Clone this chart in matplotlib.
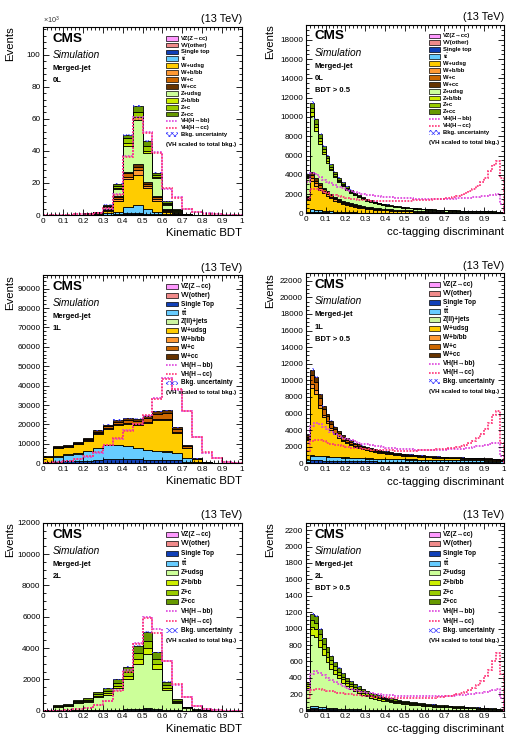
import numpy as np
import matplotlib
matplotlib.use('Agg')
from matplotlib import pyplot as plt
from matplotlib.patches import Rectangle
from matplotlib.lines import Line2D
from matplotlib.ticker import MultipleLocator, AutoMinorLocator, FuncFormatter

plt.rcParams['font.family'] = ['Liberation Sans', 'DejaVu Sans']
plt.rcParams['mathtext.fontset'] = 'custom'
plt.rcParams['mathtext.rm'] = 'Liberation Sans'
plt.rcParams['mathtext.bf'] = 'Liberation Sans:bold'
plt.rcParams['hatch.linewidth'] = 0.5

# ---------------- data ----------------
# 0L, kinematic BDT (x10^3 events), 20 bins
bdt0_vz = [0, 0, 0, 0, 0, 0.01, 0.02, 0.05, 0.1, 0.15, 0.1, 0.05, 0.02, 0.01, 0, 0, 0, 0, 0, 0]
bdt0_vv = [0.01, 0.01, 0.01, 0.01, 0.03, 0.05, 0.1, 0.2, 0.4, 0.5, 0.4, 0.25, 0.08, 0.03, 0.01, 0.01, 0.01, 0.01, 0.01, 0.01]
bdt0_st = [0.01, 0.01, 0.01, 0.01, 0.03, 0.05, 0.13, 0.25, 0.5, 0.6, 0.4, 0.2, 0.05, 0.02, 0.01, 0.01, 0.01, 0.01, 0.01, 0.01]
bdt0_tt = [0.02, 0.02, 0.02, 0.02, 0.05, 0.15, 0.75, 1.5, 4.0, 4.75, 3.1, 1.5, 0.35, 0.1, 0.03, 0.02, 0.02, 0.02, 0.02, 0.02]
bdt0_wl = [0.08, 0.08, 0.08, 0.08, 0.3, 0.6, 1.5, 7.0, 17.5, 19.0, 13.0, 7.0, 1.5, 0.35, 0.08, 0.08, 0.08, 0.08, 0.08, 0.08]
bdt0_wb = [0.01, 0.01, 0.01, 0.01, 0.04, 0.08, 0.5, 1.0, 1.5, 3.0, 1.0, 1.0, 0.5, 0.15, 0.03, 0.01, 0.01, 0.01, 0.01, 0.01]
bdt0_wc = [0.01, 0.01, 0.01, 0.01, 0.04, 0.08, 0.5, 1.0, 2.0, 2.0, 1.5, 1.0, 0.5, 0.2, 0.04, 0.01, 0.01, 0.01, 0.01, 0.01]
bdt0_wcc = [0.01, 0.01, 0.01, 0.01, 0.03, 0.08, 0.5, 1.0, 1.0, 2.0, 1.0, 1.0, 0.5, 0.15, 0.04, 0.01, 0.01, 0.01, 0.01, 0.01]
bdt0_zl = [0.12, 0.12, 0.12, 0.12, 0.35, 0.65, 1.0, 4.0, 16.0, 27.0, 18.5, 11.0, 2.5, 1.0, 0.25, 0.12, 0.12, 0.12, 0.12, 0.12]
bdt0_zb = [0.01, 0.01, 0.01, 0.01, 0.04, 0.08, 0.4, 1.0, 2.0, 2.0, 1.0, 1.0, 0.7, 0.4, 0.08, 0.01, 0.01, 0.01, 0.01, 0.01]
bdt0_zc = [0.01, 0.01, 0.01, 0.01, 0.04, 0.08, 0.5, 1.0, 3.0, 3.0, 3.0, 1.0, 0.8, 0.5, 0.1, 0.01, 0.01, 0.01, 0.01, 0.01]
bdt0_zcc = [0.01, 0.01, 0.01, 0.01, 0.05, 0.09, 0.6, 1.5, 2.0, 4.0, 3.0, 1.5, 1.0, 0.6, 0.13, 0.01, 0.01, 0.01, 0.01, 0.01]
bdt0_vhbb = [0.2, 0.2, 0.3, 0.4, 0.8, 1.5, 4, 13, 37, 61, 52, 39.5, 16.5, 11, 4, 2, 1, 0.5, 0.3, 0.2]
bdt0_vhcc = [0.2, 0.2, 0.3, 0.4, 0.7, 1.4, 4.2, 12.5, 36.5, 60, 51, 38.5, 17, 10.5, 3.5, 1.8, 0.9, 0.5, 0.3, 0.2]

# 0L, cc-tagging discriminant, 50 bins
cc0_vz = [8, 23, 20, 16, 14, 12, 10, 9, 7, 6, 6, 5, 4, 4, 3, 3, 3, 2, 2, 2,
          2, 2, 2, 1, 1, 1, 1, 1, 1, 1, 1, 1, 1, 1, 1, 1, 1, 1, 1, 1,
          1, 1, 1, 1, 1, 1, 1, 1, 1, 1]
cc0_vv = [33, 92, 78, 66, 56, 48, 41, 34, 30, 26, 22, 20, 17, 15, 14, 12, 11, 10, 9, 8,
          7, 7, 6, 6, 5, 5, 5, 4, 4, 4, 4, 3, 3, 3, 3, 3, 3, 3, 2, 2,
          2, 2, 2, 2, 2, 2, 2, 2, 1, 1]
cc0_st = [25, 69, 59, 49, 42, 36, 31, 26, 22, 19, 17, 15, 13, 11, 10, 9, 8, 7, 7, 6,
          6, 5, 5, 4, 4, 4, 4, 3, 3, 3, 3, 3, 2, 2, 2, 2, 2, 2, 2, 2,
          2, 2, 2, 1, 1, 1, 1, 1, 1, 1]
cc0_tt = [98, 276, 235, 197, 168, 144, 122, 103, 89, 77, 67, 59, 52, 46, 41, 36, 32, 29, 26, 24,
          22, 20, 19, 17, 16, 15, 14, 13, 13, 11, 11, 10, 10, 9, 9, 8, 8, 8, 7, 7,
          7, 6, 6, 5, 5, 5, 5, 5, 4, 4]
cc0_wl = [1230, 2850, 2420, 2090, 1780, 1560, 1360, 1140, 1000, 860, 765, 665, 595, 520, 475, 415, 380, 340, 312, 282,
          264, 242, 229, 210, 199, 183, 174, 161, 153, 143, 135, 127, 119, 113, 109, 102, 97, 92, 87, 82,
          78, 74, 70, 67, 63, 60, 56, 53, 49, 41]
cc0_wb = [150, 340, 290, 250, 215, 190, 165, 140, 125, 110, 100, 88, 80, 72, 66, 59, 55, 50, 47, 43,
          40, 38, 36, 33, 32, 30, 29, 27, 26, 25, 24, 23, 22, 21, 20, 19, 18, 17, 17, 16,
          16, 15, 14, 14, 13, 13, 12, 11, 11, 9]
cc0_wc = [150, 340, 290, 250, 215, 195, 170, 145, 130, 115, 105, 93, 85, 76, 70, 63, 59, 54, 50, 46,
          44, 41, 39, 37, 35, 33, 31, 30, 29, 27, 27, 25, 24, 23, 22, 21, 21, 20, 19, 18,
          18, 17, 17, 16, 16, 15, 14, 13, 12, 11]
cc0_wcc = [110, 265, 234, 198, 170, 155, 141, 123, 114, 99, 94, 85, 79, 73, 69, 63, 60, 56, 53, 49,
           48, 45, 44, 41, 40, 38, 37, 35, 34, 33, 32, 31, 29, 28, 28, 27, 26, 25, 24, 24,
           23, 23, 22, 21, 20, 19, 19, 18, 16, 14]
cc0_zl = [1840, 5800, 4930, 4050, 3450, 2900, 2420, 2030, 1710, 1475, 1265, 1100, 945, 830, 725, 637, 560, 504, 444, 402,
          360, 331, 300, 277, 252, 232, 212, 197, 180, 169, 155, 146, 137, 129, 119, 112, 107, 101, 96, 91,
          84, 80, 76, 72, 68, 64, 61, 56, 52, 44]
cc0_zb = [140, 435, 370, 310, 265, 225, 190, 160, 140, 120, 105, 93, 81, 73, 65, 58, 52, 47, 43, 39,
          36, 34, 31, 29, 27, 25, 23, 22, 20, 19, 18, 17, 16, 15, 14, 14, 13, 13, 12, 12,
          11, 11, 10, 10, 10, 9, 9, 9, 8, 7]
cc0_zc = [140, 435, 375, 310, 270, 230, 195, 165, 140, 125, 110, 97, 85, 77, 69, 62, 55, 51, 46, 42,
          39, 36, 34, 32, 29, 27, 25, 24, 22, 21, 19, 18, 18, 17, 16, 15, 15, 14, 14, 13,
          12, 12, 11, 11, 11, 10, 10, 10, 9, 8]
cc0_zcc = [176, 575, 500, 414, 355, 305, 255, 225, 193, 168, 144, 131, 114, 103, 93, 83, 75, 69, 61, 57,
           52, 49, 45, 42, 39, 37, 35, 32, 30, 29, 27, 26, 24, 24, 22, 21, 20, 20, 19, 18,
           17, 16, 16, 15, 14, 14, 13, 12, 11, 10]
cc0_vhbb = [3300, 4200, 4100, 3800, 3500, 3300, 3100, 2900, 2750, 2600, 2450, 2300, 2200, 2100, 2000, 1920, 1850, 1800, 1750, 1700,
            1680, 1650, 1620, 1600, 1580, 1560, 1540, 1520, 1500, 1500, 1490, 1480, 1480, 1480, 1490, 1500, 1510, 1520, 1540, 1560,
            1600, 1640, 1680, 1720, 1780, 1840, 1900, 1950, 2000, 1000]
cc0_vhcc = [1500, 2500, 2550, 2400, 2250, 2100, 1950, 1850, 1750, 1650, 1580, 1520, 1460, 1420, 1380, 1350, 1320, 1300, 1290, 1280,
            1280, 1280, 1280, 1290, 1300, 1310, 1320, 1340, 1360, 1380, 1400, 1420, 1450, 1480, 1520, 1570, 1640, 1720, 1820, 1950,
            2100, 2300, 2550, 2850, 3200, 3700, 4400, 5000, 5400, 3700]

# 1L, kinematic BDT, 20 bins
bdt1_vz = [5, 10, 10, 12, 15, 20, 25, 30, 35, 40, 45, 50, 55, 45, 30, 10, 3, 1, 0, 0]
bdt1_vv = [30, 80, 90, 100, 120, 150, 180, 200, 210, 220, 230, 240, 250, 200, 120, 40, 10, 5, 2, 1]
bdt1_st = [150, 800, 1000, 1100, 1300, 1700, 1900, 1900, 1800, 1700, 1600, 1500, 1450, 1200, 600, 150, 50, 20, 8, 4]
bdt1_tt = [415, 2610, 3400, 3788, 4765, 6130, 7195, 7270, 6655, 5840, 4925, 4510, 4245, 3655, 1950, 500, 137, 54, 20, 10]
bdt1_zj = [20, 50, 60, 70, 80, 100, 120, 140, 150, 160, 170, 180, 180, 120, 60, 20, 5, 2, 1, 0]
bdt1_wl = [2400, 4170, 3850, 4625, 5240, 6940, 8100, 9950, 11270, 11730, 13670, 15600, 16000, 10300, 5100, 1390, 385, 130, 54, 27]
bdt1_wb = [120, 215, 200, 235, 270, 355, 415, 510, 580, 600, 700, 810, 840, 530, 260, 70, 20, 7, 3, 1]
bdt1_wc = [340, 590, 545, 655, 740, 980, 1140, 1405, 1590, 1655, 1930, 2400, 2700, 1520, 720, 195, 55, 19, 7, 4]
bdt1_wcc = [220, 375, 345, 415, 470, 625, 725, 895, 1010, 1055, 1230, 1410, 1480, 930, 460, 125, 35, 12, 5, 3]
bdt1_vhbb = [200, 500, 1000, 2000, 3500, 5500, 9500, 12500, 17000, 20500, 24500, 33500, 44000, 38000, 27000, 13500, 5500, 2600, 500, 100]
bdt1_vhcc = [200, 500, 1000, 2000, 3600, 5600, 9300, 12800, 16800, 20000, 25000, 33000, 43500, 38200, 27000, 13300, 5600, 2500, 500, 100]

# 1L, cc-tagging discriminant, 50 bins
cc1_vz = [4, 10, 9, 9, 9, 8, 8, 8, 8, 7, 7, 7, 7, 6, 6, 6, 6, 6, 6, 5,
          5, 5, 5, 5, 5, 5, 5, 5, 5, 4, 4, 4, 4, 4, 4, 4, 4, 4, 4, 4,
          4, 4, 4, 4, 4, 4, 3, 3, 3, 2]
cc1_vv = [32, 67, 65, 63, 61, 59, 57, 55, 53, 50, 49, 48, 46, 45, 43, 42, 41, 40, 39, 38,
          37, 36, 35, 35, 34, 33, 33, 32, 32, 31, 31, 30, 30, 30, 29, 29, 28, 28, 27, 27,
          27, 26, 26, 25, 25, 25, 24, 23, 21, 16]
cc1_st = [135, 285, 279, 270, 261, 252, 243, 234, 225, 216, 210, 204, 198, 192, 186, 180, 176, 171, 167, 162,
          158, 155, 152, 149, 146, 143, 140, 138, 136, 134, 132, 130, 128, 127, 125, 123, 121, 119, 118, 116,
          114, 112, 110, 109, 107, 105, 102, 98, 90, 69]
cc1_tt = [261, 551, 539, 522, 505, 487, 470, 452, 435, 418, 406, 394, 383, 371, 360, 348, 339, 331, 322, 313,
          305, 299, 293, 287, 281, 276, 271, 267, 263, 259, 255, 252, 248, 245, 241, 238, 234, 231, 227, 224,
          220, 217, 213, 210, 206, 203, 197, 189, 174, 133]
cc1_zj = [18, 38, 37, 36, 35, 34, 32, 31, 30, 29, 28, 27, 26, 26, 25, 24, 23, 23, 22, 22,
          21, 21, 20, 20, 19, 19, 19, 18, 18, 18, 18, 17, 17, 17, 17, 16, 16, 16, 16, 15,
          15, 15, 15, 14, 14, 14, 14, 13, 12, 9]
cc1_wl = [2300, 8070, 7390, 5770, 4700, 4020, 3220, 2700, 2340, 1980, 1730, 1510, 1340, 1200, 1070, 970, 860, 785, 720, 660,
          605, 555, 513, 475, 444, 416, 390, 364, 341, 321, 292, 268, 252, 240, 228, 219, 210, 201, 192, 186,
          180, 174, 168, 162, 157, 148, 141, 132, 123, 94]
cc1_wb = [150, 520, 470, 370, 300, 260, 215, 185, 160, 140, 125, 110, 100, 90, 85, 80, 75, 70, 65, 60,
          55, 52, 49, 46, 43, 41, 39, 37, 35, 34, 33, 31, 30, 29, 28, 27, 26, 25, 24, 24,
          23, 23, 22, 22, 21, 20, 19, 18, 17, 13]
cc1_wc = [325, 1140, 1040, 815, 665, 570, 515, 440, 385, 330, 290, 260, 230, 210, 195, 180, 175, 160, 150, 140,
          130, 120, 112, 105, 99, 94, 89, 84, 79, 75, 71, 71, 67, 64, 62, 60, 58, 56, 54, 53,
          52, 50, 49, 48, 46, 44, 43, 40, 38, 29]
cc1_wcc = [175, 620, 570, 445, 365, 310, 340, 295, 265, 230, 205, 190, 170, 160, 160, 150, 155, 145, 130, 120,
           115, 108, 101, 94, 89, 84, 80, 75, 72, 69, 74, 76, 73, 70, 66, 64, 62, 60, 58, 56,
           55, 54, 53, 51, 50, 48, 47, 45, 42, 34]
cc1_vhbb = [2500, 4500, 4900, 4700, 4400, 4100, 3800, 3500, 3300, 3100, 2950, 2800, 2650, 2500, 2380, 2280, 2180, 2100, 2030, 1960,
            1900, 1850, 1800, 1760, 1730, 1700, 1680, 1660, 1640, 1630, 1620, 1620, 1620, 1630, 1640, 1650, 1670, 1700, 1730, 1770,
            1820, 1880, 1950, 2030, 2120, 2220, 2330, 2450, 2500, 900]
cc1_vhcc = [1500, 2700, 2850, 2800, 2650, 2500, 2380, 2260, 2150, 2050, 1970, 1900, 1840, 1790, 1740, 1700, 1660, 1630, 1600, 1580,
            1560, 1550, 1540, 1530, 1530, 1530, 1530, 1540, 1550, 1570, 1590, 1610, 1640, 1680, 1720, 1770, 1830, 1900, 1990, 2100,
            2250, 2450, 2700, 3050, 3500, 4100, 4900, 5800, 6300, 2500]

# 2L, kinematic BDT, 20 bins
bdt2_vz = [0, 1, 1, 2, 2, 3, 4, 6, 8, 12, 15, 11, 6, 2, 1, 0, 0, 0, 0, 0]
bdt2_vv = [1, 4, 5, 8, 9, 14, 16, 22, 30, 45, 55, 40, 20, 8, 3, 1, 0, 0, 0, 0]
bdt2_st = [0, 2, 2, 3, 3, 4, 5, 6, 7, 8, 8, 6, 4, 2, 1, 0, 0, 0, 0, 0]
bdt2_tt = [2, 8, 10, 15, 18, 25, 30, 40, 50, 65, 70, 55, 30, 12, 5, 2, 1, 0, 0, 0]
bdt2_zl = [40, 230, 275, 460, 530, 820, 970, 1360, 1920, 2830, 3450, 2560, 1260, 495, 175, 54, 18, 7, 4, 2]
bdt2_zb = [5, 25, 30, 50, 60, 90, 105, 150, 210, 320, 380, 290, 145, 57, 20, 6, 2, 1, 0, 0]
bdt2_zc = [6, 33, 40, 65, 78, 120, 140, 195, 275, 400, 480, 360, 180, 72, 25, 8, 2, 1, 0, 0]
bdt2_zcc = [6, 37, 47, 77, 90, 134, 160, 221, 310, 470, 542, 408, 205, 82, 30, 9, 3, 1, 1, 0]
bdt2_vhbb = [0, 10, 30, 80, 150, 350, 650, 1300, 2600, 4300, 6000, 5200, 3200, 1650, 900, 320, 80, 20, 5, 0]
bdt2_vhcc = [0, 10, 30, 80, 160, 360, 640, 1250, 2500, 4250, 5900, 4950, 3150, 1700, 880, 330, 90, 20, 5, 0]

# 2L, cc-tagging discriminant, 50 bins
cc2_vz = [2, 6, 6, 5, 5, 4, 4, 3, 3, 3, 3, 2, 2, 2, 2, 2, 2, 2, 2, 2,
          2, 2, 2, 2, 2, 2, 2, 2, 2, 2, 2, 2, 2, 2, 2, 2, 2, 2, 2, 2,
          2, 2, 2, 2, 2, 2, 2, 2, 2, 1]
cc2_vv = [5, 17, 17, 15, 13, 12, 10, 9, 8, 7, 6, 6, 5, 5, 4, 4, 4, 3, 3, 3,
          3, 3, 3, 2, 2, 2, 2, 2, 2, 2, 2, 2, 2, 2, 2, 2, 1, 1, 1, 1,
          1, 1, 1, 1, 1, 1, 1, 1, 1, 1]
cc2_st = [2, 5, 5, 4, 4, 3, 3, 3, 2, 2, 2, 2, 2, 1, 1, 1, 1, 1, 1, 1,
          1, 1, 1, 1, 1, 1, 1, 1, 1, 1, 1, 1, 1, 1, 1, 1, 1, 1, 1, 1,
          1, 1, 1, 1, 1, 1, 1, 1, 1, 1]
cc2_tt = [8, 25, 25, 22, 19, 17, 15, 13, 12, 10, 9, 8, 8, 7, 6, 6, 5, 5, 5, 4,
          4, 4, 4, 3, 3, 3, 3, 3, 3, 3, 3, 2, 2, 2, 2, 2, 2, 2, 2, 2,
          2, 2, 2, 1, 1, 1, 1, 1, 1, 1]
cc2_zl = [256, 868, 845, 730, 640, 557, 482, 422, 369, 321, 280, 250, 224, 202, 181, 162, 147, 134, 122, 112,
          103, 95, 88, 83, 77, 72, 67, 63, 58, 54, 50, 47, 44, 41, 38, 36, 34, 32, 30, 28,
          25, 23, 21, 20, 18, 16, 14, 12, 10, 7]
cc2_zb = [30, 101, 99, 86, 76, 66, 57, 51, 45, 39, 34, 31, 28, 25, 23, 21, 19, 18, 16, 15,
          14, 13, 12, 11, 11, 10, 9, 9, 8, 8, 7, 7, 7, 6, 6, 6, 5, 5, 5, 5,
          4, 4, 4, 3, 3, 3, 3, 2, 2, 1]
cc2_zc = [23, 79, 77, 68, 60, 53, 47, 42, 37, 33, 30, 28, 25, 24, 22, 20, 19, 18, 17, 16,
          15, 14, 13, 13, 12, 11, 11, 10, 10, 9, 9, 9, 8, 8, 8, 7, 7, 7, 6, 6,
          6, 5, 5, 5, 4, 4, 4, 3, 3, 2]
cc2_zcc = [24, 79, 76, 70, 63, 58, 52, 47, 44, 40, 36, 33, 31, 29, 26, 24, 23, 21, 20, 19,
           18, 17, 16, 15, 14, 14, 13, 12, 12, 11, 11, 10, 10, 10, 9, 9, 9, 8, 8, 7,
           7, 7, 6, 6, 6, 5, 4, 5, 3, 2]
cc2_vhbb = [250, 450, 480, 460, 430, 400, 370, 345, 320, 300, 282, 266, 252, 240, 229, 220, 212, 205, 199, 194,
            190, 186, 183, 180, 178, 176, 175, 174, 173, 173, 173, 173, 174, 175, 176, 178, 180, 183, 186, 190,
            194, 199, 205, 212, 220, 230, 242, 255, 262, 150]
cc2_vhcc = [150, 250, 270, 265, 255, 245, 236, 227, 219, 211, 204, 198, 192, 187, 182, 178, 174, 170, 167, 164,
            161, 159, 157, 155, 154, 153, 152, 152, 152, 153, 154, 156, 159, 163, 168, 174, 181, 190, 201, 215,
            232, 253, 280, 315, 360, 420, 500, 600, 700, 450]

# ---------------- style ----------------
COL = {
    'vz': '#ff99ff', 'vv': '#f08a8a', 'st': '#1040b8', 'tt': '#66ccff', 'zj': '#ccf5a0',
    'wl': '#ffcc00', 'wb': '#ff9933', 'wc': '#cc6600', 'wcc': '#663300',
    'zl': '#ccff99', 'zb': '#ccee00', 'zc': '#99cc00', 'zcc': '#669900',
}
BB_COL = '#dd44dd'
CC_COL = '#ff3377'
UNC_COL = '#3a3aff'
UNC = 0.012
TT = r'$\mathbf{t\bar{t}}$'
DOT = (0, (1, 0.8))

FIG_W, FIG_H = 516, 746
fig = plt.figure(figsize=(5.16, 7.46), dpi=100)


def add_panel(box, nbins, comps, vhbb, vhcc, ytop, ymaj, ynmin, xlabel, region, cut, ylab_x, sci=False):
    left, top, right, bottom = box
    axh = bottom - top
    ax = fig.add_axes([left / FIG_W, 1 - bottom / FIG_H, (right - left) / FIG_W, axh / FIG_H])
    edges = np.linspace(0, 1, nbins + 1)

    base = np.zeros(nbins)
    for vals, key, lab in comps:
        top_v = base + np.asarray(vals, dtype=float)
        ax.stairs(top_v, edges, baseline=base, fill=True, facecolor=COL[key],
                  edgecolor='black', linewidth=0.6)
        base = top_v
    ax.stairs(base * (1 + UNC), edges, baseline=base * (1 - UNC), fill=True,
              facecolor='none', edgecolor=UNC_COL, hatch='xxxxxx', linewidth=0)
    ax.stairs(vhbb, edges, color=BB_COL, linestyle=DOT, linewidth=1.25)
    ax.stairs(vhcc, edges, color=CC_COL, linestyle=DOT, linewidth=1.25)

    ax.set_xlim(0, 1)
    ax.set_ylim(0, ytop)
    ax.xaxis.set_major_locator(MultipleLocator(0.1))
    ax.xaxis.set_minor_locator(AutoMinorLocator(5))
    ax.xaxis.set_major_formatter(FuncFormatter(lambda v, p: f'{v:g}'))
    ax.yaxis.set_major_locator(MultipleLocator(ymaj))
    ax.yaxis.set_minor_locator(AutoMinorLocator(ynmin))
    ax.yaxis.set_major_formatter(FuncFormatter(lambda v, p: f'{v:g}'))
    ax.tick_params(which='both', direction='in', top=True, right=True, width=0.6, labelsize=5.9)
    ax.tick_params(which='major', length=4.2, pad=2)
    ax.tick_params(which='minor', length=2.2)
    for s in ax.spines.values():
        s.set_linewidth(0.8)

    ax.set_xlabel(xlabel, fontsize=8.2, loc='right')
    ax.xaxis.set_label_coords(1.0, -0.07)
    ax.set_ylabel('Events', fontsize=8.2, loc='top')
    ax.yaxis.set_label_coords(ylab_x, 1.0)
    ax.text(1.0, 1.012, '(13 TeV)', transform=ax.transAxes, ha='right', va='bottom', fontsize=7.8)
    if sci:
        ax.text(0.0, 1.006, r'$\times$10$^{3}$', transform=ax.transAxes, ha='left', va='bottom',
                fontsize=5.2, color='#333333')

    # labels on the upper left
    def yfr(px):
        return 1 - px / axh
    xt = 9 / (right - left)
    ax.text(xt, yfr(11.8), 'CMS', transform=ax.transAxes, fontsize=9.7, fontweight='bold', va='center')
    ax.text(xt, yfr(28), 'Simulation', transform=ax.transAxes, fontsize=7.3, style='italic', va='center')
    ax.text(xt, yfr(41.5), 'Merged-jet', transform=ax.transAxes, fontsize=5.5, fontweight='bold', va='center')
    ax.text(xt, yfr(53.8), region, transform=ax.transAxes, fontsize=5.5, fontweight='bold', va='center')
    if cut:
        ax.text(xt, yfr(66), cut, transform=ax.transAxes, fontsize=5.5, fontweight='bold', va='center')

    # legend, drawn by hand to follow the compact ROOT layout
    rows = [(lab, 'patch', COL[key]) for vals, key, lab in comps]
    rows += [('VH(H\u2192bb)', 'line', BB_COL), ('VH(H\u2192cc)', 'line', CC_COL),
             ('Bkg. uncertainty', 'hatch', UNC_COL)]
    step = 96.5 / (len(rows) - 1)
    fs = min(4.7, step * 0.62)
    x0 = 123 / (right - left)
    w = 11.5 / (right - left)
    hh = min(4.8, step - 1.6) / axh
    for k, (lab, kind, c) in enumerate(rows):
        y = yfr(11.5 + k * step)
        if kind == 'patch':
            ax.add_patch(Rectangle((x0, y - hh / 2), w, hh, transform=ax.transAxes,
                                   facecolor=c, edgecolor='black', linewidth=0.5))
        elif kind == 'line':
            ax.add_line(Line2D([x0, x0 + w], [y, y], transform=ax.transAxes, color=c,
                               linestyle=DOT, linewidth=1.2))
        else:
            ax.add_patch(Rectangle((x0, y - hh / 2), w, hh, transform=ax.transAxes,
                                   facecolor='none', edgecolor=UNC_COL, hatch='xxxxxx', linewidth=0))
        ax.text(x0 + w + 3 / (right - left), y, lab, transform=ax.transAxes, fontsize=fs,
                fontweight='bold', va='center', ha='left')
    ax.text(x0, yfr(11.5 + 96.5 + 9.8), '(VH scaled to total bkg.)', transform=ax.transAxes,
            fontsize=4.4, fontweight='bold', va='center', ha='left')
    return ax


comps_0l_bdt = [(bdt0_vz, 'vz', 'VZ(Z\u2192cc)'), (bdt0_vv, 'vv', 'VV(other)'), (bdt0_st, 'st', 'Single top'),
                (bdt0_tt, 'tt', TT), (bdt0_wl, 'wl', 'W+udsg'), (bdt0_wb, 'wb', 'W+b/bb'),
                (bdt0_wc, 'wc', 'W+c'), (bdt0_wcc, 'wcc', 'W+cc'), (bdt0_zl, 'zl', 'Z+udsg'),
                (bdt0_zb, 'zb', 'Z+b/bb'), (bdt0_zc, 'zc', 'Z+c'), (bdt0_zcc, 'zcc', 'Z+cc')]
comps_0l_cc = [(cc0_vz, 'vz', 'VZ(Z\u2192cc)'), (cc0_vv, 'vv', 'VV(other)'), (cc0_st, 'st', 'Single top'),
               (cc0_tt, 'tt', TT), (cc0_wl, 'wl', 'W+udsg'), (cc0_wb, 'wb', 'W+b/bb'),
               (cc0_wc, 'wc', 'W+c'), (cc0_wcc, 'wcc', 'W+cc'), (cc0_zl, 'zl', 'Z+udsg'),
               (cc0_zb, 'zb', 'Z+b/bb'), (cc0_zc, 'zc', 'Z+c'), (cc0_zcc, 'zcc', 'Z+cc')]
comps_1l_bdt = [(bdt1_vz, 'vz', 'VZ(Z\u2192cc)'), (bdt1_vv, 'vv', 'VV(other)'), (bdt1_st, 'st', 'Single Top'),
                (bdt1_tt, 'tt', TT), (bdt1_zj, 'zj', 'Z(ll)+jets'), (bdt1_wl, 'wl', 'W+udsg'),
                (bdt1_wb, 'wb', 'W+b/bb'), (bdt1_wc, 'wc', 'W+c'), (bdt1_wcc, 'wcc', 'W+cc')]
comps_1l_cc = [(cc1_vz, 'vz', 'VZ(Z\u2192cc)'), (cc1_vv, 'vv', 'VV(other)'), (cc1_st, 'st', 'Single Top'),
               (cc1_tt, 'tt', TT), (cc1_zj, 'zj', 'Z(ll)+jets'), (cc1_wl, 'wl', 'W+udsg'),
               (cc1_wb, 'wb', 'W+b/bb'), (cc1_wc, 'wc', 'W+c'), (cc1_wcc, 'wcc', 'W+cc')]
comps_2l_bdt = [(bdt2_vz, 'vz', 'VZ(Z\u2192cc)'), (bdt2_vv, 'vv', 'VV(other)'), (bdt2_st, 'st', 'Single Top'),
                (bdt2_tt, 'tt', TT), (bdt2_zl, 'zl', 'Z+udsg'), (bdt2_zb, 'zb', 'Z+b/bb'),
                (bdt2_zc, 'zc', 'Z+c'), (bdt2_zcc, 'zcc', 'Z+cc')]
comps_2l_cc = [(cc2_vz, 'vz', 'VZ(Z\u2192cc)'), (cc2_vv, 'vv', 'VV(other)'), (cc2_st, 'st', 'Single Top'),
               (cc2_tt, 'tt', TT), (cc2_zl, 'zl', 'Z+udsg'), (cc2_zb, 'zb', 'Z+b/bb'),
               (cc2_zc, 'zc', 'Z+c'), (cc2_zcc, 'zcc', 'Z+cc')]

# boxes in pixels: left, top, right, bottom
add_panel((43.3, 26.7, 241.7, 215.0), 20, comps_0l_bdt, bdt0_vhbb, bdt0_vhcc, 117.5, 20, 5,
          'Kinematic BDT', '0L', None, -0.14, sci=True)
add_panel((305.7, 24.5, 503.7, 213.3), 50, comps_0l_cc, cc0_vhbb, cc0_vhcc, 19600, 2000, 4,
          'cc-tagging discriminant', '0L', 'BDT > 0.5', -0.155)
add_panel((43.3, 275.0, 241.7, 463.3), 20, comps_1l_bdt, bdt1_vhbb, bdt1_vhcc, 97000, 10000, 5,
          'Kinematic BDT', '1L', None, -0.14)
add_panel((305.7, 273.3, 503.7, 463.3), 50, comps_1l_cc, cc1_vhbb, cc1_vhcc, 22900, 2000, 4,
          'cc-tagging discriminant', '1L', 'BDT > 0.5', -0.155)
add_panel((43.3, 522.7, 241.7, 710.7), 20, comps_2l_bdt, bdt2_vhbb, bdt2_vhcc, 12000, 2000, 4,
          'Kinematic BDT', '2L', None, -0.14)
add_panel((305.7, 522.7, 503.7, 710.7), 50, comps_2l_cc, cc2_vhbb, cc2_vhcc, 2290, 200, 4,
          'cc-tagging discriminant', '2L', 'BDT > 0.5', -0.155)

fig.savefig('out.png', dpi=100)
